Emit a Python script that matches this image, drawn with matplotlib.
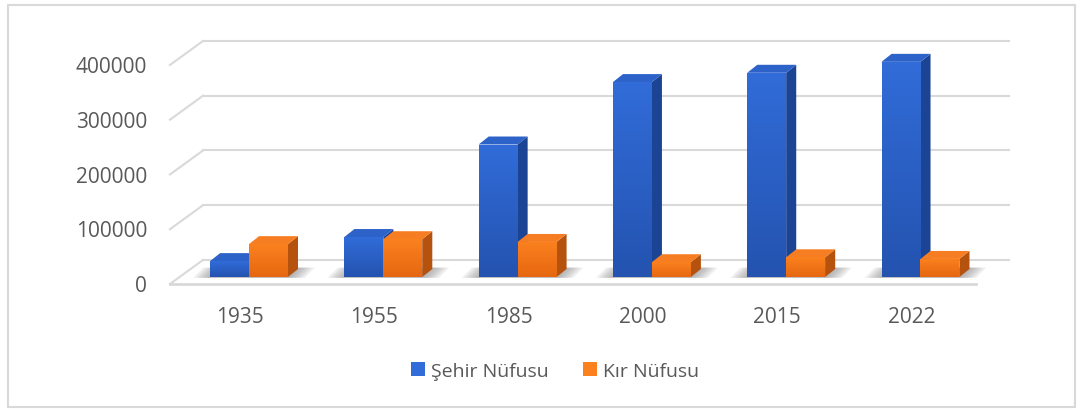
import numpy as np
import matplotlib.pyplot as plt
from matplotlib.colors import LinearSegmentedColormap
from matplotlib.patches import Polygon, Patch, Rectangle

# data
years = ['1935', '1955', '1985', '2000', '2015', '2022']
sehir = [29000, 73000, 242000, 356000, 373000, 393000]
kir = [60000, 69000, 64000, 27000, 36000, 33000]
yticks = [0, 100000, 200000, 300000, 400000]

plt.rcParams['font.family'] = ['Open Sans', 'DejaVu Sans']
txt = '#595959'
grid = '#d9d9d9'

blue = dict(bottom='#2453b0', upper='#316cd8', top='#2d62c9', side='#1c4495')
orange = dict(bottom='#e66710', upper='#fb811f', top='#f77d22', side='#b5520e')

fig = plt.figure(figsize=(10.8, 4.1), dpi=100)
ax = fig.add_axes([0, 0, 1, 1])
ax.axis('off')

# fake 3d geometry
bw = 0.29
wall_dx, wall_dy = 0.246, 43800
front = 0.29
fdx, fdy = wall_dx * front, wall_dy * front
bdx, bdy = wall_dx * (1 - front), wall_dy * (1 - front)
bar_dx, bar_dy = 0.075, 14600
x0, x1 = -0.517, 5.485

# back gridlines and left diagonals
for v in yticks:
    ax.plot([x0 + bdx, x1 + bdx], [v + bdy, v + bdy], color=grid, lw=1.5, zorder=1)
    ax.plot([x0 - fdx, x0 + bdx], [v - fdy, v + bdy], color=grid, lw=1.5, zorder=1)
# front floor edge
ax.plot([x0 - fdx, x1 - fdx], [-fdy, -fdy], color=grid, lw=2, zorder=1)

for v in yticks:
    ax.text(x0 - fdx - 0.17, v - fdy - 3000, str(v), ha='right', va='center',
            fontsize=15, color=txt)

for i, y in enumerate(years):
    ax.text(i - 0.067, -73000, y, ha='center', va='center', fontsize=15, color=txt)


def shadow(xl, xr):
    for k in range(6):
        e = 0.015 + 0.022 * k
        pts = [(xl - e, -1500), (xr + e, -1500), (xr + e + bar_dx, bar_dy + 2500),
               (xl - e + bar_dx, bar_dy + 2500)]
        ax.add_patch(Polygon(pts, closed=True, facecolor='#6f6f6f', edgecolor='none',
                             alpha=0.11, zorder=2))


grad = np.linspace(0, 1, 64).reshape(-1, 1)


def bar3d(x, w, h, c):
    ax.add_patch(Polygon([(x + w, 0), (x + w + bar_dx, bar_dy), (x + w + bar_dx, h + bar_dy),
                          (x + w, h)], closed=True, facecolor=c['side'], edgecolor='none', zorder=3))
    ax.add_patch(Polygon([(x, h), (x + w, h), (x + w + bar_dx, h + bar_dy), (x + bar_dx, h + bar_dy)],
                         closed=True, facecolor=c['top'], edgecolor='none', zorder=3))
    rect = Rectangle((x, 0), w, h, facecolor=c['upper'], edgecolor='none', zorder=3)
    ax.add_patch(rect)
    cmap = LinearSegmentedColormap.from_list('g', [c['bottom'], c['upper']])
    im = ax.imshow(grad, cmap=cmap, extent=(x, x + w, 0, h), origin='lower',
                   aspect='auto', zorder=3.1, interpolation='bilinear')
    im.set_clip_path(rect)


for i in range(len(years)):
    shadow(i - bw, i + bw)
    bar3d(i - bw, bw, sehir[i], blue)
    bar3d(i, bw, kir[i], orange)

ax.set_xlim(-1.854, 6.188)
ax.set_ylim(-241100, 507770)

handles = [Patch(facecolor=blue['upper'], edgecolor='none', label='Şehir Nüfusu'),
           Patch(facecolor=orange['upper'], edgecolor='none', label='Kır Nüfusu')]
fig.legend(handles=handles, loc='center', bbox_to_anchor=(0.514, 0.093), ncol=2,
           frameon=False, fontsize=14, handlelength=0.7, handleheight=0.7,
           handletextpad=0.3, columnspacing=1.8, labelcolor=txt)

fig.patches.append(Rectangle((0.0074, 0.005), 0.988, 0.98, transform=fig.transFigure,
                             fill=False, edgecolor=grid, lw=1.5))

fig.savefig('out.png', dpi=100)
